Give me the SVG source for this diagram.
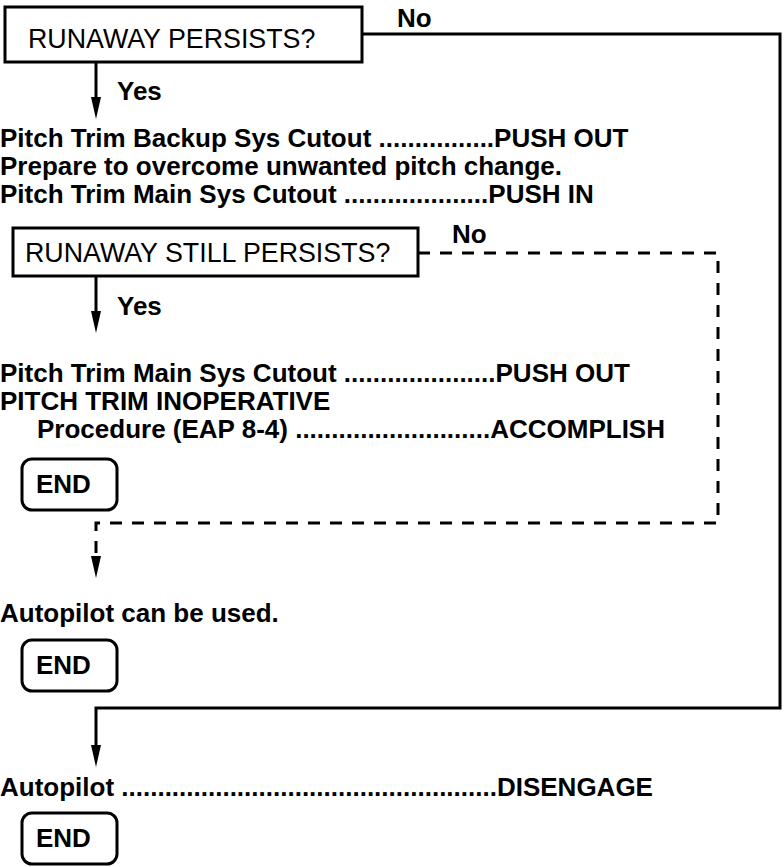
<svg xmlns="http://www.w3.org/2000/svg" width="784" height="867" viewBox="0 0 784 867">
<style>
.t{font-family:"Liberation Sans",Arial,sans-serif;font-size:26px;fill:#000}
.r{font-size:26.8px}
.b{font-weight:bold}
.box{fill:#fff;stroke:#000;stroke-width:3}
.end{fill:#fff;stroke:#000;stroke-width:3}
.c{fill:none;stroke:#000;stroke-width:3}
.d{stroke-dasharray:12 10}
</style>
<defs>
<marker id="ah" viewBox="0 0 22 10" refX="0" refY="5" markerWidth="22" markerHeight="10" markerUnits="userSpaceOnUse" orient="auto">
<path d="M0,0 L22,5 L0,10 z" fill="#000"/>
</marker>
</defs>
<rect width="784" height="867" fill="#fff"/>
<g id="connectors">
<path class="c" d="M96,62 V97" marker-end="url(#ah)"/>
<path class="c" d="M362,34 H780 V708 H96 V745" marker-end="url(#ah)"/>
<path class="c" d="M96,276 V311" marker-end="url(#ah)"/>
<path class="c d" d="M418,253 H718 V523 H96 V556" marker-end="url(#ah)"/>
<text class="t b" x="397" y="27">No</text>
<text class="t b" x="117" y="100">Yes</text>
<text class="t b" x="452" y="243">No</text>
<text class="t b" x="117" y="315">Yes</text>
</g>
<g id="q1">
<rect class="box" x="5" y="7" width="357" height="55"/>
<text class="t r" x="28" y="48">RUNAWAY PERSISTS?</text>
</g>
<g id="steps1">
<text class="t b" x="0" y="147">Pitch Trim Backup Sys Cutout ................PUSH OUT</text>
<text class="t b" x="0" y="175">Prepare to overcome unwanted pitch change.</text>
<text class="t b" x="0" y="203">Pitch Trim Main Sys Cutout ....................PUSH IN</text>
</g>
<g id="q2">
<rect class="box" x="13" y="228" width="405" height="48"/>
<text class="t r" x="25" y="262">RUNAWAY STILL PERSISTS?</text>
</g>
<g id="steps2">
<text class="t b" x="0" y="382">Pitch Trim Main Sys Cutout .....................PUSH OUT</text>
<text class="t b" x="0" y="410">PITCH TRIM INOPERATIVE</text>
<text class="t b" x="37" y="438">Procedure (EAP 8-4) ...........................ACCOMPLISH</text>
</g>
<g id="end1">
<rect class="end" x="22" y="459" width="95" height="51" rx="10"/>
<text class="t b" x="36" y="493">END</text>
</g>
<g id="steps3">
<text class="t b" x="0" y="622">Autopilot can be used.</text>
</g>
<g id="end2">
<rect class="end" x="22" y="640" width="95" height="51" rx="10"/>
<text class="t b" x="36" y="674">END</text>
</g>
<g id="steps4">
<text class="t b" x="0" y="796">Autopilot ....................................................DISENGAGE</text>
</g>
<g id="end3">
<rect class="end" x="22" y="813" width="95" height="51" rx="10"/>
<text class="t b" x="36" y="847">END</text>
</g>
</svg>
